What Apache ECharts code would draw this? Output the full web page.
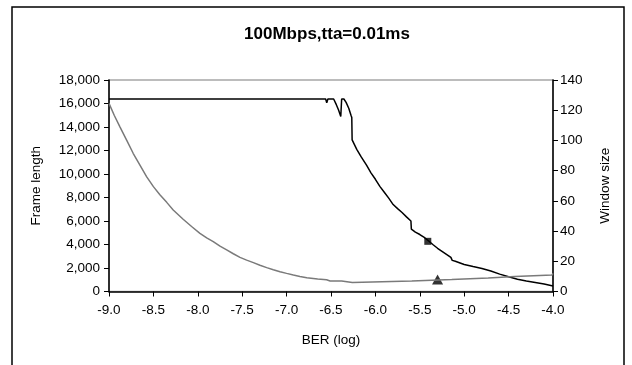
<!DOCTYPE html>
<html>
<head>
<meta charset="utf-8">
<script src="https://cdn.jsdelivr.net/npm/echarts@6/dist/echarts.min.js"></script>
<style>
  html, body { margin: 0; padding: 0; background: #fff; }
  #chart { width: 632px; height: 365px; }
</style>
</head>
<body>
<div id="chart"></div>
<script>
// frame length curve (left axis)
const berFrame = [-9.0, -6.56, -6.548, -6.535, -6.47, -6.44, -6.415, -6.39, -6.38, -6.355, -6.33, -6.30, -6.275, -6.266,
    -6.262, -6.21, -6.16, -6.10, -6.05, -6.00, -5.95, -5.90, -5.85, -5.80, -5.75, -5.70, -5.65, -5.60,
    -5.595, -5.55, -5.50, -5.45, -5.40, -5.35, -5.30, -5.25, -5.20, -5.15, -5.135, -5.10, -5.00, -4.90,
    -4.80, -4.70, -4.60, -4.50, -4.40, -4.30, -4.20, -4.10, -4.00];
const frameLen = [16384, 16384, 16050, 16384, 16384, 15900, 15450, 14900, 16384, 16384, 16100, 15600, 15000, 14800,
    12900, 12100, 11450, 10750, 10100, 9550, 8950, 8450, 7950, 7400, 7050, 6720, 6350, 6000,
    5300, 5050, 4850, 4600, 4300, 3980, 3680, 3420, 3160, 2900, 2650, 2580, 2300, 2120,
    1950, 1740, 1480, 1250, 1050, 900, 770, 640, 460];

// window size curve (right axis)
const berWin = [-9.0, -8.94, -8.877, -8.80, -8.728, -8.65, -8.577, -8.50, -8.427, -8.35, -8.277, -8.165, -8.07, -7.976,
    -7.90, -7.826, -7.75, -7.675, -7.60, -7.525, -7.45, -7.374, -7.30, -7.224, -7.15, -7.074, -7.00, -6.924,
    -6.85, -6.773, -6.70, -6.65, -6.55, -6.51, -6.38, -6.36, -6.26, -6.25,
    -5.59, -5.59, -5.14, -5.14, -4.73, -4.73, -4.43, -4.43, -4.01, -4.01, -4.0];
const winSize = [124.5, 116.5, 109, 100, 91.5, 83.5, 76, 69.4, 64, 59, 54, 47.8, 43, 38.5,
    35.5, 33, 30, 27.5, 25, 22.6, 20.8, 19.1, 17.4, 15.8, 14.4, 13.1, 12, 10.9,
    10, 9.1, 8.6, 8.2, 7.8, 7, 7, 6, 6, 7,
    7, 8, 8, 9, 9, 10, 10, 11, 11, 12, 12];

const squareMark = [-5.41, 4270];
const triangleMark = [-5.30, 8];

const frameTicks = { min: 0, max: 18000, step: 2000 };
const winTicks = { min: 0, max: 140, step: 20 };
const berTicks = { min: -9, max: -4, step: 0.5 };

const font = 'Liberation Sans, Arial, sans-serif';

let chart = echarts.init(document.getElementById('chart'));
const option = {
    animation: false,
    backgroundColor: '#fff',
    textStyle: { fontFamily: font, color: '#000' },
    title: {
        text: '100Mbps,tta=0.01ms',
        left: 322,
        top: 21,
        textAlign: 'center',
        textStyle: { fontFamily: font, fontSize: 17, fontWeight: 'bold', color: '#000' }
    },
    graphic: [{
        type: 'rect',
        shape: { x: 12, y: 7, width: 612, height: 380 },
        style: { fill: 'none', stroke: '#000', lineWidth: 1.5 },
        silent: true
    }],
    grid: {
        left: 109,
        right: 79,
        top: 80,
        bottom: 73.5,
        show: true,
        borderColor: '#a6a6a6',
        borderWidth: 1.5
    },
    xAxis: {
        type: 'value',
        min: berTicks.min,
        max: berTicks.max,
        interval: berTicks.step,
        name: 'BER (log)',
        nameLocation: 'middle',
        nameGap: 42,
        nameTextStyle: { fontFamily: font, fontSize: 13.5, color: '#000' },
        axisLine: { lineStyle: { color: '#000', width: 1.5 } },
        axisTick: { length: 5, lineStyle: { color: '#000' } },
        axisLabel: { fontFamily: font, fontSize: 13.5, color: '#000', margin: 12,
            formatter: v => v.toFixed(1) },
        splitLine: { show: false }
    },
    yAxis: [{
        type: 'value',
        min: frameTicks.min,
        max: frameTicks.max,
        interval: frameTicks.step,
        name: 'Frame length',
        nameLocation: 'middle',
        nameGap: 66,
        nameTextStyle: { fontFamily: font, fontSize: 13.5, color: '#000' },
        axisLine: { show: true, lineStyle: { color: '#000', width: 1.5 } },
        axisTick: { show: true, length: 5, lineStyle: { color: '#000' } },
        axisLabel: { fontFamily: font, fontSize: 13.5, color: '#000', margin: 9,
            formatter: v => v.toLocaleString('en-US') },
        splitLine: { show: false }
    }, {
        type: 'value',
        position: 'right',
        min: winTicks.min,
        max: winTicks.max,
        interval: winTicks.step,
        name: 'Window size',
        nameLocation: 'middle',
        nameGap: 45,
        nameTextStyle: { fontFamily: font, fontSize: 13.5, color: '#000' },
        axisLine: { show: true, lineStyle: { color: '#000', width: 1.5 } },
        axisTick: { show: true, length: 5, lineStyle: { color: '#000' } },
        axisLabel: { fontFamily: font, fontSize: 13.5, color: '#000', margin: 7 },
        splitLine: { show: false }
    }],
    series: [
        {
            name: 'Frame length',
            type: 'line',
            yAxisIndex: 0,
            showSymbol: false,
            symbol: 'none',
            color: '#000',
            lineStyle: { color: '#000', width: 1.5 },
            data: berFrame.map((x, i) => [x, frameLen[i]])
        },
        {
            name: 'Window size',
            type: 'line',
            yAxisIndex: 1,
            showSymbol: false,
            symbol: 'none',
            color: '#7a7a7a',
            lineStyle: { color: '#7a7a7a', width: 1.5 },
            data: berWin.map((x, i) => [x, winSize[i]])
        },
        {
            type: 'scatter',
            yAxisIndex: 0,
            symbol: 'rect',
            symbolSize: 7,
            itemStyle: { color: '#000' },
            data: [squareMark]
        },
        {
            type: 'scatter',
            yAxisIndex: 1,
            symbol: 'triangle',
            symbolSize: [11, 10],
            itemStyle: { color: '#000' },
            data: [triangleMark]
        }
    ]
};
chart.setOption(option);
</script>
</body>
</html>
